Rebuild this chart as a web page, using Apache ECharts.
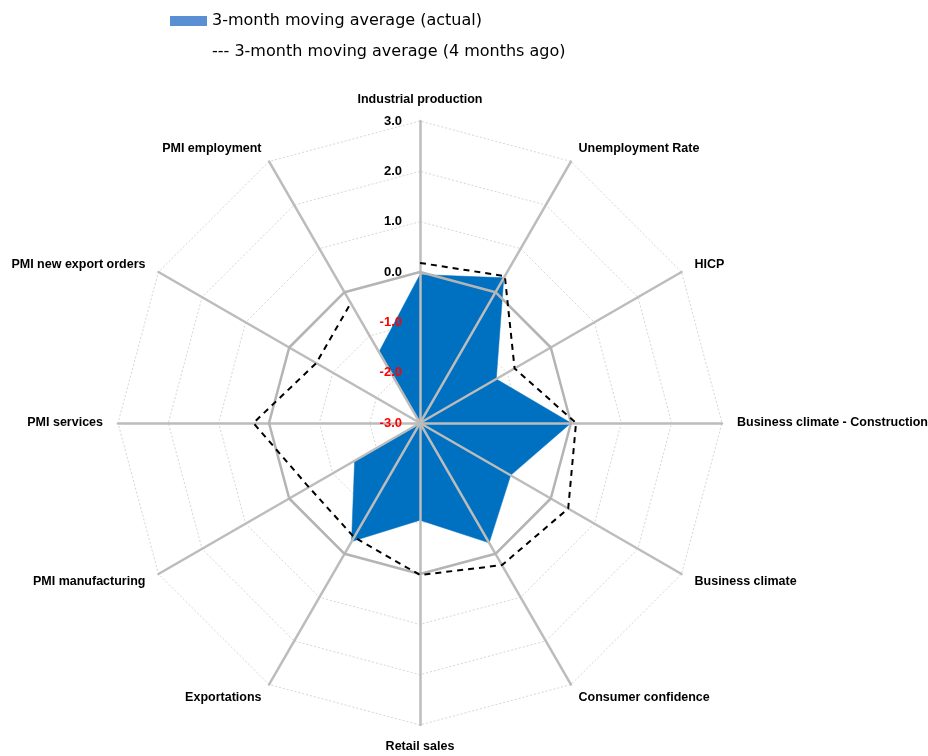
<!DOCTYPE html>
<html>
<head>
<meta charset="utf-8">
<script src="https://cdn.jsdelivr.net/npm/echarts@6/dist/echarts.min.js"></script>
<style>
html,body{margin:0;padding:0;background:#fff;}
#chart{width:928px;height:756px;}
</style>
</head>
<body>
<div id="chart"></div>
<script>
// ---- data ----
const categories = ['Industrial production', 'Unemployment Rate', 'HICP', 'Business climate - Construction',
  'Business climate', 'Consumer confidence', 'Retail sales', 'Exportations', 'PMI manufacturing',
  'PMI services', 'PMI new export orders', 'PMI employment'];
const actual = [-0.05, 0.33, -1.25, 0.0, -0.92, -0.25, -1.07, -0.28, -1.5, -3.0, -3.0, -1.37];
const fourMonthsAgo = [0.18, 0.37, -0.83, 0.1, 0.4, 0.26, 0.02, -0.38, -0.45, 0.31, -0.62, -0.25];
const zeroLevel = [0, 0, 0, 0, 0, 0, 0, 0, 0, 0, 0, 0];
const axisMin = -3;
const axisMax = 3;
const actualName = '3-month moving average (actual)';
const prevName = '3-month moving average (4 months ago)';

// radar places indicators counter-clockwise; reorder so they run clockwise
const n = categories.length;
const cw = arr => arr.map((_, i) => arr[(n - i) % n]);

const nameFont = "'Liberation Sans', Arial, sans-serif";
const center = [420, 423];
const radius = 302;

const indicatorsGrid = cw(categories).map(c => ({ name: c, min: axisMin, max: axisMax }));
const indicatorsMain = cw(categories).map((c, i) => {
  const o = { name: c, min: axisMin, max: axisMax };
  if (i === 0) {
    o.axisLabel = {
      show: true,
      margin: 18,
      fontFamily: nameFont,
      fontWeight: 'bold',
      fontSize: 13,
      formatter: v => Number(v).toFixed(1),
      color: v => (parseFloat(v) < 0 ? '#FF0000' : '#000000')
    };
  }
  return o;
});

const chart = echarts.init(document.getElementById('chart'), null, { renderer: 'canvas' });
chart.setOption({
  animation: false,
  backgroundColor: '#ffffff',
  legend: {
    orient: 'vertical',
    left: 170,
    top: 11,
    padding: 0,
    itemWidth: 37,
    itemHeight: 10,
    itemGap: 11,
    selectedMode: false,
    textStyle: { fontFamily: "'DejaVu Sans', sans-serif", fontSize: 16, color: '#000', lineHeight: 20 },
    formatter: name => (name === prevName ? '--- ' + name : name),
    data: [
      { name: actualName, icon: 'rect', itemStyle: { color: '#5B8FD4' } },
      { name: prevName, icon: 'none' }
    ]
  },
  radar: [
    {
      center: center, radius: radius, startAngle: 90, splitNumber: 6, shape: 'polygon', z: 0,
      indicator: indicatorsGrid,
      axisName: { show: false },
      axisLine: { show: false },
      axisTick: { show: false },
      axisLabel: { show: false },
      splitArea: { show: false },
      splitLine: { lineStyle: { color: '#d6d6d6', width: 1, type: [2, 2] } }
    },
    {
      center: center, radius: radius, startAngle: 90, splitNumber: 6, shape: 'polygon', z: 2,
      indicator: indicatorsMain,
      axisName: { color: '#000', fontFamily: nameFont, fontWeight: 'bold', fontSize: 12.5 },
      nameGap: 15,
      axisLine: { lineStyle: { color: '#bcbcbc', width: 2.5 } },
      axisTick: { show: false },
      axisLabel: { show: false },
      splitArea: { show: false },
      splitLine: { show: false }
    }
  ],
  polar: { center: center, radius: radius },
  angleAxis: { type: 'category', data: categories, boundaryGap: true, startAngle: 105, clockwise: true, show: false },
  radiusAxis: { type: 'value', min: axisMin, max: axisMax, show: false },
  series: [
    {
      type: 'radar', radarIndex: 0, z: 1, silent: true, symbol: 'none',
      itemStyle: { color: '#0070C0' },
      lineStyle: { color: '#0070C0', width: 0.5 },
      areaStyle: { color: '#0070C0', opacity: 1 },
      data: [{ name: actualName, value: cw(actual) }]
    },
    {
      type: 'radar', radarIndex: 1, z: 3, silent: true, symbol: 'none',
      itemStyle: { color: '#b4b4b4' },
      lineStyle: { color: '#b4b4b4', width: 2.5 },
      data: [{ name: '0 level', value: cw(zeroLevel) }]
    },
    {
      type: 'line', coordinateSystem: 'polar', name: prevName, z: 5, silent: true,
      symbol: 'none', smooth: false,
      itemStyle: { color: '#000' },
      lineStyle: { color: '#000', width: 2, type: [6, 5] },
      data: fourMonthsAgo
    }
  ]
});
</script>
</body>
</html>
